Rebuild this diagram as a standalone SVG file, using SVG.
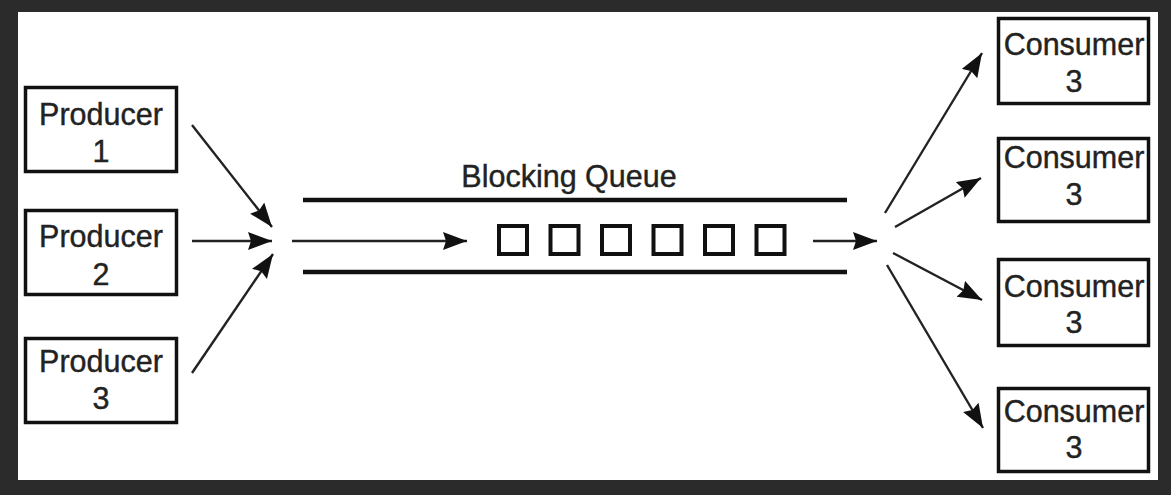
<svg xmlns="http://www.w3.org/2000/svg" width="1171" height="495" viewBox="0 0 1171 495">
  <style>
    .box { fill: #ffffff; stroke: #111; stroke-width: 3.5; }
    .lbl { font-family: "Liberation Sans", Arial, sans-serif; font-size: 30.5px; fill: #222; text-anchor: middle; stroke: #222; stroke-width: 0.4; }
    .conn { stroke: #222; stroke-width: 2.4; fill: none; marker-end: url(#ah); }
    .rail { stroke: #111; stroke-width: 4.5; }
    .slot { fill: none; stroke: #111; stroke-width: 4; }
  </style>
  <defs>
    <marker id="ah" markerUnits="userSpaceOnUse" markerWidth="26" markerHeight="20" refX="24" refY="9" orient="auto">
      <path d="M0,0 L24,9 L0,18 L3,9 z" fill="#111"/>
    </marker>
  </defs>
  <rect width="1171" height="495" fill="#2b2b2b"/>
  <rect x="18" y="12" width="1140" height="468" fill="#ffffff"/>

  <g id="producer1">
    <rect class="box" x="25.5" y="87.5" width="151" height="84"/>
    <text class="lbl" x="101" y="125">Producer</text>
    <text class="lbl" x="101" y="162">1</text>
  </g>
  <g id="producer2">
    <rect class="box" x="25.5" y="210.5" width="151" height="84"/>
    <text class="lbl" x="101" y="247">Producer</text>
    <text class="lbl" x="101" y="285">2</text>
  </g>
  <g id="producer3">
    <rect class="box" x="25.5" y="338.5" width="151" height="84"/>
    <text class="lbl" x="101" y="372">Producer</text>
    <text class="lbl" x="101" y="409">3</text>
  </g>

  <g id="queue">
    <text class="lbl" x="569" y="187">Blocking Queue</text>
    <line class="rail" x1="303" y1="200" x2="847" y2="200"/>
    <line class="rail" x1="303" y1="272" x2="847" y2="272"/>
    <rect class="slot" x="499" y="226" width="28" height="28"/>
    <rect class="slot" x="550.5" y="226" width="28" height="28"/>
    <rect class="slot" x="602" y="226" width="28" height="28"/>
    <rect class="slot" x="653.5" y="226" width="28" height="28"/>
    <rect class="slot" x="705" y="226" width="28" height="28"/>
    <rect class="slot" x="756.5" y="226" width="28" height="28"/>
  </g>

  <g id="consumer1">
    <rect class="box" x="998.5" y="18.5" width="150" height="85"/>
    <text class="lbl" x="1074" y="55">Consumer</text>
    <text class="lbl" x="1074" y="92">3</text>
  </g>
  <g id="consumer2">
    <rect class="box" x="998.5" y="138.5" width="150" height="83"/>
    <text class="lbl" x="1074" y="168">Consumer</text>
    <text class="lbl" x="1074" y="205">3</text>
  </g>
  <g id="consumer3">
    <rect class="box" x="998.5" y="259.5" width="150" height="86"/>
    <text class="lbl" x="1074" y="297">Consumer</text>
    <text class="lbl" x="1074" y="333">3</text>
  </g>
  <g id="consumer4">
    <rect class="box" x="998.5" y="388.5" width="150" height="83"/>
    <text class="lbl" x="1074" y="422">Consumer</text>
    <text class="lbl" x="1074" y="458">3</text>
  </g>

  <g id="connectors">
    <line class="conn" x1="192" y1="125" x2="272" y2="227"/>
    <line class="conn" x1="192" y1="241" x2="272" y2="241"/>
    <line class="conn" x1="192" y1="373" x2="273" y2="254"/>
    <line class="conn" x1="292" y1="241" x2="467" y2="241"/>
    <line class="conn" x1="813" y1="241" x2="877" y2="241"/>
    <line class="conn" x1="885" y1="213" x2="982" y2="53"/>
    <line class="conn" x1="895" y1="227" x2="981" y2="178"/>
    <line class="conn" x1="893" y1="253" x2="982" y2="300"/>
    <line class="conn" x1="887" y1="265" x2="983" y2="428"/>
  </g>
</svg>
